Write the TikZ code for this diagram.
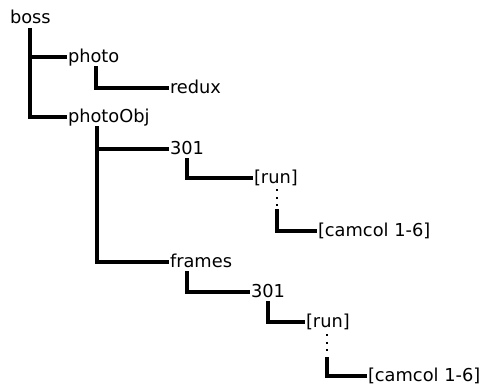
\documentclass[tikz,border=0pt]{standalone}
\usepackage{fontspec}
\setmainfont{DejaVu Sans}
\usetikzlibrary{calc}
\begin{document}
\begin{tikzpicture}[x=1pt,y=-1pt,
  lbl/.style={anchor=west,inner sep=0pt,outer xsep=1pt,outer ysep=0pt,text height=15pt,text depth=4pt,font=\fontsize{17.8}{20}\selectfont},
  tree/.style={line width=4pt,line cap=butt,line join=miter},
  dots/.style={line width=2pt,dash pattern=on 2pt off 5.5pt}]
\useasboundingbox[fill=white] (0,0) rectangle (483,385);
\node[lbl] (boss) at (9,18.5) {boss};
\node[lbl] (photo) at (67,57) {photo};
\node[lbl] (redux) at (169,88) {redux};
\node[lbl] (photoObj) at (67,117) {photoObj};
\node[lbl] (t1) at (169,149) {301};
\node[lbl] (run1) at (253,178) {[run]};
\node[lbl] (cam1) at (317,231) {[camcol 1-6]};
\node[lbl] (frames) at (169,262) {frames};
\node[lbl] (t2) at (250,292) {301};
\node[lbl] (run2) at (305,322) {[run]};
\node[lbl] (cam2) at (367,376) {[camcol 1-6]};
\draw[tree] ($(boss.south west)+(21,0)$) |- (photo.west);
\draw[tree] ($(boss.south west)+(21,0)$) |- (photoObj.west);
\draw[tree] ($(photo.south west)+(29,0)$) |- (redux.west);
\draw[tree] ($(photoObj.south west)+(30,0)$) |- (t1.west);
\draw[tree] ($(photoObj.south west)+(30,0)$) |- (frames.west);
\draw[tree] ($(t1.south west)+(18,0)$) |- (run1.west);
\draw[dots] ($(run1.south west)+(24,2)$) -- ($(run1.south west)+(24,19)$);
\draw[tree] ($(run1.south west)+(24,22)$) |- (cam1.west);
\draw[tree] ($(frames.south west)+(18,0)$) |- (t2.west);
\draw[tree] ($(t2.south west)+(18,0)$) |- (run2.west);
\draw[dots] ($(run2.south west)+(22,3)$) -- ($(run2.south west)+(22,23)$);
\draw[tree] ($(run2.south west)+(22,26)$) |- (cam2.west);
\end{tikzpicture}
\end{document}
